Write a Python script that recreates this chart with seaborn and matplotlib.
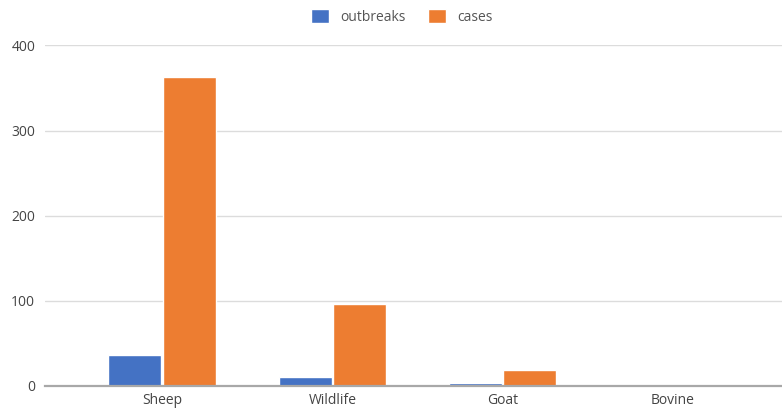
import matplotlib
matplotlib.use("Agg")
import matplotlib.pyplot as plt
import seaborn as sns
import pandas as pd

species = ["Sheep", "Wildlife", "Goat", "Bovine"]
outbreaks = [36, 10, 3, 0]
cases = [363, 96, 19, 0]
series_names = ["outbreaks", "cases"]
palette = ["#4472C4", "#ED7D31"]
y_ticks = [0, 100, 200, 300, 400]

df = pd.DataFrame({
    "species": species * 2,
    "series": [series_names[0]] * len(species) + [series_names[1]] * len(species),
    "value": outbreaks + cases,
})

sns.set_theme(style="white")
plt.rcParams["font.family"] = ["Open Sans", "DejaVu Sans"]

fig = plt.figure(figsize=(7.82, 4.09), dpi=100)
ax = fig.add_axes([45 / 782, 1 - 385.7 / 409, 1 - 45 / 782, (385.7 - 45.5) / 409])

sns.barplot(data=df, x="species", y="value", hue="series", order=species,
            hue_order=series_names, palette=palette, width=0.64, gap=0.03,
            saturation=1, ax=ax, legend=True)

ax.set_ylim(0, 400)
ax.set_xlim(-0.687, 3.64)
ax.set_yticks(y_ticks)
ax.set_xlabel("")
ax.set_ylabel("")
ax.yaxis.grid(True, color="#dcdcdc", linewidth=1)
ax.set_axisbelow(True)
for side in ["left", "right", "top"]:
    ax.spines[side].set_visible(False)
ax.spines["bottom"].set_color("#a8a8a8")
ax.spines["bottom"].set_linewidth(1.6)
ax.spines["bottom"].set_zorder(5)
ax.tick_params(axis="both", length=0, labelsize=10, labelcolor="#444444")
ax.tick_params(axis="y", pad=7)
ax.tick_params(axis="x", pad=5)

handles, labels = ax.get_legend_handles_labels()
ax.get_legend().remove()
fig.legend(handles, labels, loc="center", bbox_to_anchor=(402 / 782, 1 - 17 / 409),
           ncol=2, frameon=False, fontsize=10, labelcolor="#555555",
           handlelength=1.3, handleheight=1.1, handletextpad=0.8, columnspacing=1.6)

fig.savefig("out.png", dpi=100)
